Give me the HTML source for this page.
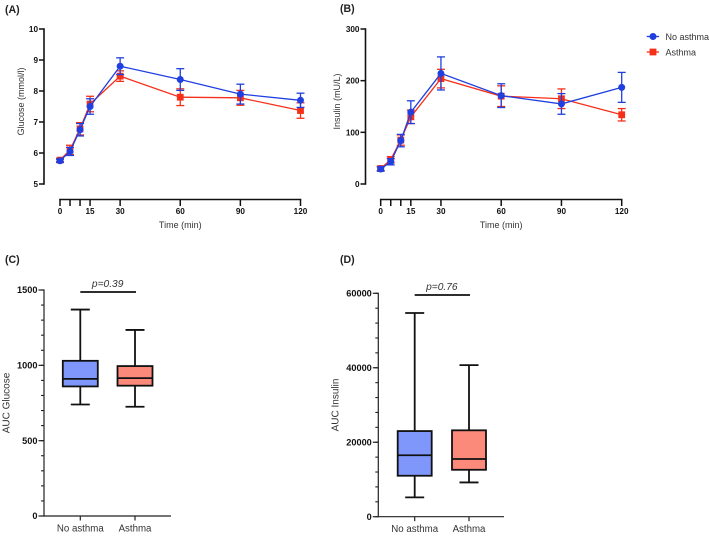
<!DOCTYPE html>
<html>
<head>
<meta charset="utf-8">
<title>Glucose and insulin charts</title>
<style>
html,body{margin:0;padding:0;background:#fff;width:709px;height:536px;overflow:hidden}
svg{display:block;filter:blur(0.35px)}
text{font-family:"Liberation Sans",sans-serif}
</style>
</head>
<body>
<svg id="chart" width="709" height="536" viewBox="0 0 709 536" xmlns="http://www.w3.org/2000/svg"></svg>
<script>
const timePoints = [0, 5, 10, 15, 30, 60, 90, 120];
const timeTicks = [0, 5, 10, 15, 30, 60, 90, 120];
const timeTickLabels = ['0', '', '', '15', '30', '60', '90', '120'];

const glucoseNoAsthma = [5.75, 6.05, 6.75, 7.5, 8.8, 8.37, 7.9, 7.7];
const glucoseNoAsthmaErr = [0.05, 0.13, 0.2, 0.25, 0.27, 0.35, 0.32, 0.23];
const glucoseAsthma = [5.77, 6.1, 6.78, 7.58, 8.48, 7.8, 7.78, 7.37];
const glucoseAsthmaErr = [0.05, 0.15, 0.2, 0.25, 0.17, 0.27, 0.24, 0.25];
const glucoseTicks = [5, 6, 7, 8, 9, 10];

const insulinNoAsthma = [29, 43, 84, 139, 214, 171, 155, 187];
const insulinNoAsthmaErr = [4, 6, 12, 22, 32, 23, 20, 29];
const insulinAsthma = [30, 47, 85, 130, 204, 170, 165, 134];
const insulinAsthmaErr = [4, 6, 10, 13, 18, 20, 19, 12];
const insulinTicks = [0, 100, 200, 300];

const boxCategories = ['No asthma', 'Asthma'];
const aucGlucoseMin = [740, 725];
const aucGlucoseQ1 = [860, 865];
const aucGlucoseMedian = [910, 915];
const aucGlucoseQ3 = [1030, 995];
const aucGlucoseMax = [1370, 1235];
const aucGlucoseTicks = [0, 500, 1000, 1500];
const aucGlucoseMinorStep = 100;
const aucGlucoseP = 'p=0.39';

const aucInsulinMin = [5200, 9200];
const aucInsulinQ1 = [11000, 12600];
const aucInsulinMedian = [16500, 15500];
const aucInsulinQ3 = [23000, 23200];
const aucInsulinMax = [54700, 40700];
const aucInsulinTicks = [0, 20000, 40000, 60000];
const aucInsulinMinorStep = 4000;
const aucInsulinP = 'p=0.76';

const NS = 'http://www.w3.org/2000/svg';
const root = document.getElementById('chart');
const BLUE = '#1f3fe0', RED = '#f5301a', INK = '#111';

function mk(parent, tag, attrs, name) {
  const el = document.createElementNS(NS, tag);
  for (const k in attrs) el.setAttribute(k, attrs[k]);
  
  
  parent.appendChild(el);
  return el;
}
function line(p, x1, y1, x2, y2, stroke, w, name) {
  return mk(p, 'line', {x1, y1, x2, y2, stroke, 'stroke-width': w}, name);
}
function label(p, x, y, str, opts, name) {
  const el = mk(p, 'text', Object.assign({x, y}, opts), name);
  el.textContent = str;
  return el;
}
function scale(d0, d1, r0, r1) {
  return v => r0 + (v - d0) * (r1 - r0) / (d1 - d0);
}

function linePanel(cfg) {
  const g = mk(root, 'g', {}, cfg.name);
  const x = scale(0, 120, cfg.x0, cfg.x1);
  const y = scale(cfg.yMin, cfg.yMax, cfg.yBottom, cfg.yTop);

  line(g, cfg.axisX, cfg.yTop - 0.8, cfg.axisX, cfg.yBottom + 0.8, INK, 1.6, 'y-axis');
  cfg.yTicks.forEach(t => {
    line(g, cfg.axisX - 5, y(t), cfg.axisX, y(t), INK, 1.5, 'y-tick');
    label(g, cfg.axisX - 6, y(t) + 3, String(t), {'font-size': 8.2, 'font-weight': 'bold', 'text-anchor': 'end', fill: INK}, 'y-tick-label');
  });
  line(g, x(0) - 0.8, 199.5, x(120) + 0.8, 199.5, INK, 1.6, 'x-axis');
  timeTicks.forEach((t, i) => {
    line(g, x(t), 199.5, x(t), 206, INK, 1.5, 'x-tick');
    if (timeTickLabels[i]) {
      label(g, x(t), 214, timeTickLabels[i], {'font-size': 8.2, 'font-weight': 'bold', 'text-anchor': 'middle', fill: INK}, 'x-tick-label');
    }
  });
  label(g, x(60), 228, 'Time (min)', {'font-size': 9, 'text-anchor': 'middle', fill: '#333'}, 'x-axis-title');
  label(g, 0, 0, cfg.yTitle, {'font-size': 9, 'text-anchor': 'middle', fill: '#333', transform: `translate(${cfg.titleX} ${(cfg.yTop + cfg.yBottom) / 2 - 5}) rotate(-90)`}, 'y-axis-title');

  series(g, x, y, cfg.asthma, cfg.asthmaErr, RED, 'square', 'asthma-series');
  series(g, x, y, cfg.noAsthma, cfg.noAsthmaErr, BLUE, 'circle', 'no-asthma-series');
}

function series(parent, x, y, vals, errs, color, shape, name) {
  const g = mk(parent, 'g', {}, name);
  vals.forEach((v, i) => {
    const px = x(timePoints[i]);
    const top = y(v + errs[i]), bot = y(v - errs[i]);
    line(g, px, top, px, bot, color, 1.3, 'error-bar');
    line(g, px - 4, top, px + 4, top, color, 1.3, 'error-cap-upper');
    line(g, px - 4, bot, px + 4, bot, color, 1.3, 'error-cap-lower');
  });
  const pts = vals.map((v, i) => x(timePoints[i]) + ',' + y(v)).join(' ');
  mk(g, 'polyline', {points: pts, fill: 'none', stroke: color, 'stroke-width': 1.3}, 'series-line');
  vals.forEach((v, i) => {
    const px = x(timePoints[i]), py = y(v);
    if (shape === 'circle') {
      mk(g, 'circle', {cx: px, cy: py, r: 3.5, fill: color}, 'data-point');
    } else {
      mk(g, 'rect', {x: px - 3.4, y: py - 3.4, width: 6.8, height: 6.8, fill: color}, 'data-point');
    }
  });
}

function boxPanel(cfg) {
  const g = mk(root, 'g', {}, cfg.name);
  const y = scale(0, cfg.yMax, cfg.yBottom, cfg.yTop);
  const boxW = cfg.boxW;
  line(g, cfg.axisX, cfg.yTop - 0.6, cfg.axisX, cfg.yBottom + 0.6, '#222', 1.2, 'y-axis');
  for (let v = 0; v <= cfg.yMax; v += cfg.minorStep) {
    line(g, cfg.axisX - 3, y(v), cfg.axisX, y(v), '#222', 1.1, 'y-minor-tick');
  }
  cfg.yTicks.forEach(t => {
    line(g, cfg.axisX - 5.5, y(t), cfg.axisX, y(t), '#222', 1.2, 'y-tick');
    label(g, cfg.axisX - 6.5, y(t) + 3.2, String(t), {'font-size': 9.2, 'font-weight': 'bold', 'text-anchor': 'end', fill: INK}, 'y-tick-label');
  });
  line(g, cfg.axisX, cfg.yBottom, cfg.axisEnd, cfg.yBottom, '#222', 1.2, 'x-axis');
  boxCategories.forEach((c, i) => {
    const cx = cfg.cats[i];
    line(g, cx, cfg.yBottom, cx, cfg.yBottom + 4.5, '#222', 1.2, 'x-tick');
    label(g, cx, cfg.yBottom + 15.5, c, {'font-size': 9.7, 'text-anchor': 'middle', fill: '#333'}, 'x-tick-label');
    const b = mk(g, 'g', {}, 'box-' + c.toLowerCase().replace(' ', '-'));
    line(b, cx, y(cfg.max[i]), cx, y(cfg.min[i]), INK, 1.8, 'whisker');
    line(b, cx - 9.5, y(cfg.max[i]), cx + 9.5, y(cfg.max[i]), INK, 1.8, 'whisker-cap-max');
    line(b, cx - 9.5, y(cfg.min[i]), cx + 9.5, y(cfg.min[i]), INK, 1.8, 'whisker-cap-min');
    mk(b, 'rect', {x: cx - boxW / 2, y: y(cfg.q3[i]), width: boxW, height: y(cfg.q1[i]) - y(cfg.q3[i]), fill: cfg.fills[i], stroke: INK, 'stroke-width': 1.8}, 'box-body');
    line(b, cx - boxW / 2, y(cfg.median[i]), cx + boxW / 2, y(cfg.median[i]), INK, 1.8, 'median-line');
  });
  line(g, cfg.cats[0], cfg.barY, cfg.cats[1] + 1, cfg.barY, INK, 1.8, 'significance-bar');
  label(g, (cfg.cats[0] + cfg.cats[1]) / 2, cfg.barY - 5, cfg.p, {'font-size': 10.2, 'font-style': 'italic', 'text-anchor': 'middle', fill: '#333'}, 'p-value');
  label(g, 0, 0, cfg.yTitle, {'font-size': 10, 'text-anchor': 'middle', fill: '#333', transform: `translate(${cfg.titleX} ${cfg.titleY}) rotate(-90)`}, 'y-axis-title');
}

linePanel({
  name: 'panel-a-glucose', x0: 60, x1: 300.5, axisX: 44, yTop: 29, yBottom: 184,
  yMin: 5, yMax: 10, yTicks: glucoseTicks, yTitle: 'Glucose (mmol/l)', titleX: 24,
  noAsthma: glucoseNoAsthma, noAsthmaErr: glucoseNoAsthmaErr, asthma: glucoseAsthma, asthmaErr: glucoseAsthmaErr
});
linePanel({
  name: 'panel-b-insulin', x0: 380.7, x1: 621.7, axisX: 365.5, yTop: 29, yBottom: 184,
  yMin: 0, yMax: 300, yTicks: insulinTicks, yTitle: 'Insulin (mU/L)', titleX: 340,
  noAsthma: insulinNoAsthma, noAsthmaErr: insulinNoAsthmaErr, asthma: insulinAsthma, asthmaErr: insulinAsthmaErr
});
boxPanel({
  name: 'panel-c-auc-glucose', axisX: 44, axisEnd: 171, yTop: 290, yBottom: 516, yMax: 1500,
  yTicks: aucGlucoseTicks, minorStep: aucGlucoseMinorStep, cats: [80.3, 135], boxW: 35, barY: 292, p: aucGlucoseP,
  min: aucGlucoseMin, q1: aucGlucoseQ1, median: aucGlucoseMedian, q3: aucGlucoseQ3, max: aucGlucoseMax,
  fills: ['#7f97fb', '#fc8a7a'], yTitle: 'AUC Glucose', titleX: 9.5, titleY: 403
});
boxPanel({
  name: 'panel-d-auc-insulin', axisX: 378.3, axisEnd: 504, yTop: 293.3, yBottom: 516.7, yMax: 60000,
  yTicks: aucInsulinTicks, minorStep: aucInsulinMinorStep, cats: [414.7, 469], boxW: 34, barY: 295, p: aucInsulinP,
  min: aucInsulinMin, q1: aucInsulinQ1, median: aucInsulinMedian, q3: aucInsulinQ3, max: aucInsulinMax,
  fills: ['#7f97fb', '#fc8a7a'], yTitle: 'AUC Insulin', titleX: 338.5, titleY: 405
});

const panelLabels = [['(A)', 5, 13], ['(B)', 340, 12], ['(C)', 5, 263], ['(D)', 340, 263]];
panelLabels.forEach(p => {
  label(root, p[1], p[2], p[0], {'font-size': 10.6, 'font-weight': 'bold', fill: '#222'}, 'panel-label');
});

const legend = mk(root, 'g', {}, 'legend');
const e1 = mk(legend, 'g', {}, 'legend-entry-no-asthma');
line(e1, 646.7, 36.5, 659, 36.5, BLUE, 1.3, 'legend-line');
mk(e1, 'circle', {cx: 653, cy: 36.5, r: 3.5, fill: BLUE}, 'legend-marker');
label(e1, 665.5, 39.8, 'No asthma', {'font-size': 9, fill: '#333'}, 'legend-label');
const e2 = mk(legend, 'g', {}, 'legend-entry-asthma');
line(e2, 646.7, 52, 659, 52, RED, 1.3, 'legend-line');
mk(e2, 'rect', {x: 649.6, y: 48.6, width: 6.8, height: 6.8, fill: RED}, 'legend-marker');
label(e2, 665.5, 55.3, 'Asthma', {'font-size': 9, fill: '#333'}, 'legend-label');
</script>
</body>
</html>
